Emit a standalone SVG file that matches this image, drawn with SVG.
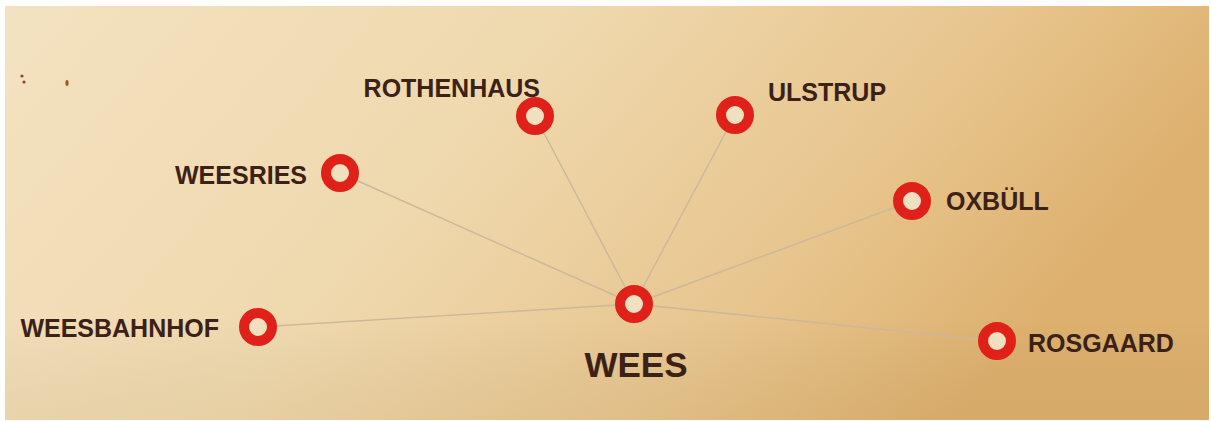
<svg xmlns="http://www.w3.org/2000/svg" width="1211" height="421" viewBox="0 0 1211 421">
  <defs>
    <linearGradient id="bg" x1="0" y1="0" x2="1" y2="0.3">
      <stop offset="0" stop-color="#f3e2c1"/>
      <stop offset="0.45" stop-color="#efd8ad"/>
      <stop offset="0.78" stop-color="#e7c48c"/>
      <stop offset="1" stop-color="#ddb06e"/>
    </linearGradient>
    <linearGradient id="shade" x1="0" y1="0" x2="0" y2="1">
      <stop offset="0" stop-color="#000" stop-opacity="0"/>
      <stop offset="0.75" stop-color="#000" stop-opacity="0"/>
      <stop offset="1" stop-color="#6b4a10" stop-opacity="0.06"/>
    </linearGradient>
    <style>
      .ring { fill: #f1e0c0; stroke: #e0211a; stroke-width: 10; }
      .edge { stroke: #cbb89b; stroke-width: 1.4; fill: none; }
      .lbl { font-family: "Liberation Sans", Arial, sans-serif; font-weight: bold; font-size: 25px; fill: #3b2116; }
      .main { font-size: 35px; }
    </style>
  </defs>
  <rect width="1211" height="421" fill="#ffffff"/>
  <rect x="5" y="6" width="1204" height="414" fill="url(#bg)"/>
  <rect x="5" y="6" width="1204" height="414" fill="url(#shade)"/>
  <g id="specks" fill="#8a4a2a">
    <circle cx="22" cy="76" r="1.6"/>
    <circle cx="24" cy="82" r="1.6"/>
    <ellipse cx="67" cy="83" rx="1.6" ry="3" fill="#9a5a20"/>
  </g>
  <g id="connectors">
    <line class="edge" x1="634" y1="304" x2="258" y2="327"/>
    <line class="edge" x1="634" y1="304" x2="340" y2="173"/>
    <line class="edge" x1="634" y1="304" x2="535" y2="116"/>
    <line class="edge" x1="634" y1="304" x2="735" y2="115"/>
    <line class="edge" x1="634" y1="304" x2="912" y2="201"/>
    <line class="edge" x1="634" y1="304" x2="997" y2="341"/>
  </g>
  <g id="node-wees">
    <circle class="ring" cx="634" cy="304" r="14"/>
    <text class="lbl main" x="636" y="377" text-anchor="middle">WEES</text>
  </g>
  <g id="node-weesbahnhof">
    <circle class="ring" cx="258" cy="327" r="14"/>
    <text class="lbl" x="219" y="337" text-anchor="end">WEESBAHNHOF</text>
  </g>
  <g id="node-weesries">
    <circle class="ring" cx="340" cy="173" r="14"/>
    <text class="lbl" x="307" y="184" text-anchor="end">WEESRIES</text>
  </g>
  <g id="node-rothenhaus">
    <circle class="ring" cx="535" cy="116" r="14"/>
    <text class="lbl" x="540" y="97" text-anchor="end">ROTHENHAUS</text>
  </g>
  <g id="node-ulstrup">
    <circle class="ring" cx="735" cy="115" r="14"/>
    <text class="lbl" x="768" y="101">ULSTRUP</text>
  </g>
  <g id="node-oxbull">
    <circle class="ring" cx="912" cy="201" r="14"/>
    <text class="lbl" x="946" y="210">OXBÜLL</text>
  </g>
  <g id="node-rosgaard">
    <circle class="ring" cx="997" cy="341" r="14"/>
    <text class="lbl" x="1028" y="352">ROSGAARD</text>
  </g>
</svg>
